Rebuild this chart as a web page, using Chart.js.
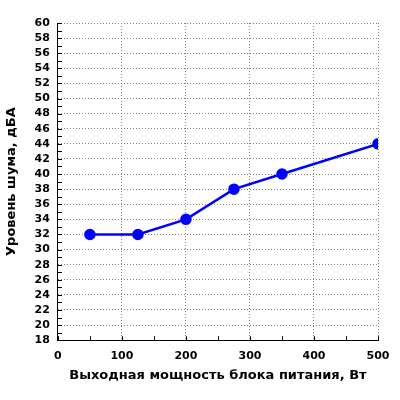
<!DOCTYPE html>
<html>
<head>
<meta charset="utf-8">
<script src="https://cdn.jsdelivr.net/npm/chart.js@4/dist/chart.umd.min.js"></script>
<style>
  html, body { margin: 0; padding: 0; background: #fff; }
  #wrap { width: 400px; height: 400px; }
</style>
</head>
<body>
<div id="wrap"><canvas id="myCanvas" width="400" height="400"></canvas></div>
<script>
// data
var powerW = [50, 125, 200, 275, 350, 500];
var noiseDb = [32, 32, 34, 38, 40, 44];
var xTitle = 'Выходная мощность блока питания, Вт';
var yTitle = 'Уровень шума, дБА';

var points = powerW.map(function (p, i) { return { x: p, y: noiseDb[i] }; });

// small inner ticks along the left and bottom axes
var innerTicks = {
    id: 'innerTicks',
    afterDatasetsDraw: function (chart) {
        var c = chart.ctx, a = chart.chartArea;
        var xs = chart.scales.x, ys = chart.scales.y;
        c.save();
        c.strokeStyle = '#000';
        c.lineWidth = 1;
        c.beginPath();
        for (var v = ys.min; v <= ys.max; v += 1) {
            var py = Math.round(ys.getPixelForValue(v)) + 0.5;
            c.moveTo(a.left, py);
            c.lineTo(a.left + 4, py);
        }
        for (var u = xs.min; u <= xs.max; u += 50) {
            var px = Math.round(xs.getPixelForValue(u)) + 0.5;
            c.moveTo(px, a.bottom);
            c.lineTo(px, a.bottom - 4);
        }
        c.stroke();
        c.restore();
    }
};

var font = { family: 'DejaVu Sans', size: 11, weight: 'bold' };
var titleFont = { family: 'DejaVu Sans', size: 13, weight: 'bold' };

var myChart = new Chart(document.getElementById('myCanvas'), {
    type: 'scatter',
    data: {
        datasets: [{
            data: points,
            showLine: true,
            borderColor: '#0000ff',
            backgroundColor: '#0000ff',
            borderWidth: 2.5,
            pointRadius: 4.5,
            pointHoverRadius: 4.5
        }]
    },
    options: {
        responsive: false,
        animation: false,
        layout: { padding: { top: 23, right: 22, left: 4, bottom: 17 } },
        plugins: { legend: { display: false }, tooltip: { enabled: false } },
        scales: {
            x: {
                type: 'linear',
                min: 0,
                max: 500,
                ticks: { stepSize: 100, autoSkip: false, maxRotation: 0, color: '#000', font: font, padding: 9 },
                grid: { color: '#808080', drawTicks: false, tickLength: 0 },
                border: { display: true, color: '#000', width: 1, dash: [1, 2] },
                title: { display: true, text: xTitle, color: '#000', font: titleFont, padding: { top: -4, bottom: 0 } }
            },
            y: {
                type: 'linear',
                min: 18,
                max: 60,
                ticks: { stepSize: 2, autoSkip: false, color: '#000', font: font, padding: 8 },
                grid: { color: '#808080', drawTicks: false, tickLength: 0 },
                border: { display: true, color: '#000', width: 1, dash: [1, 2] },
                title: { display: true, text: yTitle, color: '#000', font: titleFont, padding: { top: 0, bottom: 7 } }
            }
        }
    },
    plugins: [innerTicks]
});
</script>
</body>
</html>
